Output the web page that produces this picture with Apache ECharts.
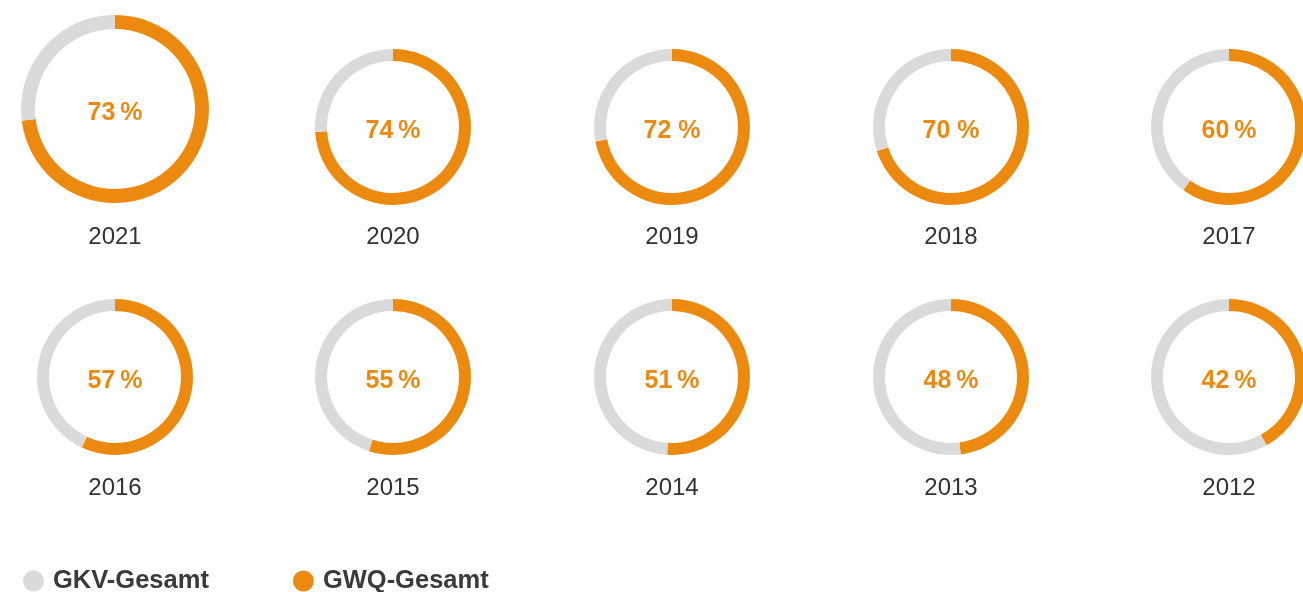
<!DOCTYPE html>
<html>
<head>
<meta charset="utf-8">
<script src="https://cdn.jsdelivr.net/npm/echarts@6/dist/echarts.min.js"></script>
<style>
  html, body { margin: 0; padding: 0; background: #fff; }
  #chart { width: 1303px; height: 592px; }
</style>
</head>
<body>
<div id="chart"></div>
<script>
// GWQ share per year (orange part), rest is GKV
const years = ['2021', '2020', '2019', '2018', '2017', '2016', '2015', '2014', '2013', '2012'];
const gwqShare = [73, 74, 72, 70, 60, 57, 55, 51, 48, 42];
const shareLabels = ['73\u202F%', '74\u202F%', '72 %', '70 %', '60\u202F%', '57\u202F%', '55\u202F%', '51\u202F%', '48\u202F%', '42\u202F%'];
const seriesNames = ['GKV-Gesamt', 'GWQ-Gesamt'];

const ORANGE = '#ec8a10';
const GREY = '#dadada';
const FONT = 'Liberation Sans, Arial, sans-serif';

const colX = [115, 393, 672, 951, 1229];
const rowY = [127, 377];

let chart = echarts.init(document.getElementById('chart'));

const series = [];
const titles = [];
years.forEach((year, i) => {
    const col = i % 5;
    const row = Math.floor(i / 5);
    const big = i === 0; // 2021 drawn larger
    const cx = colX[col];
    const cy = big ? 109 : rowY[row];
    series.push({
        type: 'pie',
        name: year,
        center: [cx, cy],
        radius: big ? [80, 94] : [66, 78],
        startAngle: 90,
        clockwise: true,
        silent: true,
        animation: false,
        labelLine: { show: false },
        emphasis: { disabled: true },
        data: [
            {
                name: seriesNames[1], value: gwqShare[i],
                itemStyle: { color: ORANGE },
                label: {
                    show: true, position: 'center',
                    formatter: shareLabels[i],
                    offset: [0, 4],
                    color: ORANGE, fontSize: 25, fontWeight: 'bold', fontFamily: FONT
                }
            },
            {
                name: seriesNames[0], value: 100 - gwqShare[i],
                itemStyle: { color: GREY },
                label: { show: false }
            }
        ]
    });
    titles.push({
        text: year,
        left: cx,
        top: (row === 0 ? 235 : 486) - 10,
        padding: 0,
        textAlign: 'center',
        textStyle: { fontSize: 24, fontWeight: 'normal', color: '#333', fontFamily: FONT }
    });
});

const option = {
    backgroundColor: '#fff',
    title: titles,
    color: [GREY, ORANGE],
    legend: {
        data: seriesNames,
        left: 23,
        top: 568,
        padding: 0,
        icon: 'circle',
        itemWidth: 21,
        itemHeight: 21,
        itemGap: 84,
        selectedMode: false,
        textStyle: { fontSize: 25.5, fontWeight: 'bold', color: '#3a3a3a', fontFamily: FONT, padding: [0, 0, 0, 4] }
    },
    series: series
};

chart.setOption(option);
</script>
</body>
</html>
